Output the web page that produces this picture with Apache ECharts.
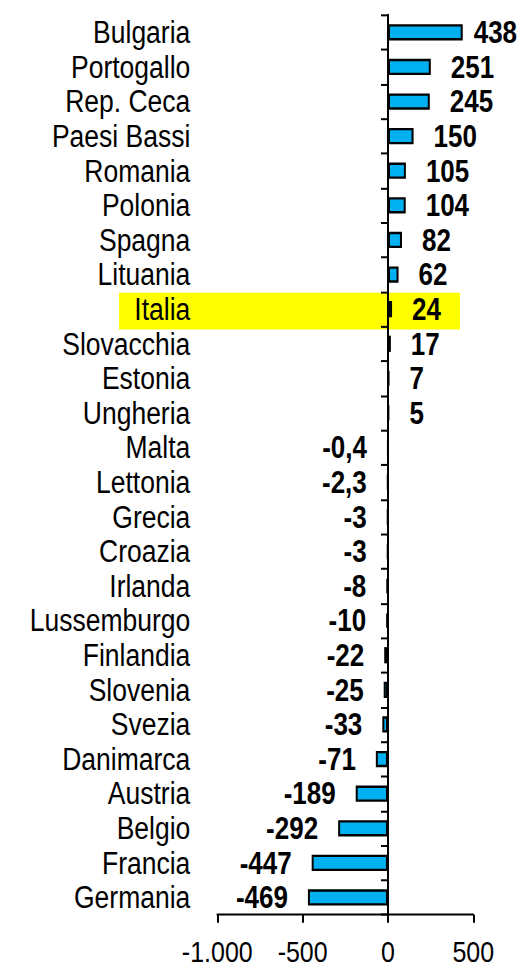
<!DOCTYPE html>
<html>
<head>
<meta charset="utf-8">
<script src="https://cdn.jsdelivr.net/npm/echarts@6/dist/echarts.min.js"></script>
<style>
html,body{margin:0;padding:0;background:#fff;overflow:hidden;}
#wrap{width:522px;height:969px;overflow:hidden;}
#chart{width:522px;transform-origin:0 0;}
</style>
</head>
<body>
<div id="wrap"><div id="chart"></div></div>
<script>
const categories = ['Bulgaria','Portogallo','Rep. Ceca','Paesi Bassi','Romania','Polonia','Spagna','Lituania','Italia','Slovacchia','Estonia','Ungheria','Malta','Lettonia','Grecia','Croazia','Irlanda','Lussemburgo','Finlandia','Slovenia','Svezia','Danimarca','Austria','Belgio','Francia','Germania'];
const values = [438,251,245,150,105,104,82,62,24,17,7,5,-0.4,-2.3,-3,-3,-8,-10,-22,-25,-33,-71,-189,-292,-447,-469];
const xTicks = [-1000,-500,0,500];
const highlighted = 'Italia';

const FONT = '"Liberation Sans",Arial,sans-serif';
// vertical stretch so the text looks as tall as in the reference
const S = 1.18;
const H = 969 / S;
const el = document.getElementById('chart');
el.style.height = H + 'px';
el.style.transform = 'scaleY(' + S + ')';

function fmtNum(v){
  const s = String(Math.abs(v)).replace('.', ',');
  const parts = s.split(',');
  parts[0] = parts[0].replace(/\B(?=(\d{3})+(?!\d))/g, '.');
  return (v < 0 ? '-' : '') + parts.join(',');
}

const chart = echarts.init(el, null, {renderer:'svg'});

const maxVal = Math.max(...values);
const data = values.map(v => ({
  value: v,
  label: {
    position: v >= 0 ? 'right' : 'left',
    distance: (v === maxVal) ? 11 : 20
  }
}));

chart.setOption({
  animation: false,
  backgroundColor: '#ffffff',
  grid: {left: 217.3, right: 48.7, top: 15 / S, bottom: 54 / S, containLabel: false, outerBoundsMode: 'none'},
  xAxis: {
    type: 'value',
    min: xTicks[0], max: xTicks[xTicks.length-1], interval: 500,
    splitLine: {show: false},
    axisLine: {show: true, onZero: false, lineStyle: {color: '#000', width: 2 / S}},
    axisTick: {show: true, length: 8 / S, lineStyle: {color: '#000', width: 2}},
    axisLabel: {
      margin: 20.5, lineHeight: 22, color: '#000', fontFamily: FONT, fontSize: 25,
      showMinLabel: true, showMaxLabel: true, hideOverlap: false,
      formatter: v => fmtNum(v)
    }
  },
  yAxis: {
    type: 'category', inverse: true, data: categories,
    axisLine: {show: true, lineStyle: {color: '#000', width: 2}},
    axisTick: {show: true, length: 7, lineStyle: {color: '#000', width: 2 / S}},
    axisLabel: {interval: 0, margin: 27, color: '#000', fontFamily: FONT, fontSize: 26.5}
  },
  series: [{
    type: 'bar',
    data: data,
    barWidth: '47%',
    itemStyle: {color: '#00B0F0', borderColor: '#000', borderWidth: 2},
    label: {
      show: true, color: '#000', fontFamily: FONT, fontWeight: 'bold', fontSize: 26,
      formatter: p => fmtNum(p.value)
    }
  }]
});

const yc = chart.convertToPixel({yAxisIndex: 0}, highlighted);
chart.setOption({
  graphic: [{
    type: 'rect', z: -100, silent: true,
    shape: {x: 119, y: yc - 16.3 / S, width: 341, height: 36.7 / S},
    style: {fill: '#FFFF00'}
  }]
});
</script>
</body>
</html>
